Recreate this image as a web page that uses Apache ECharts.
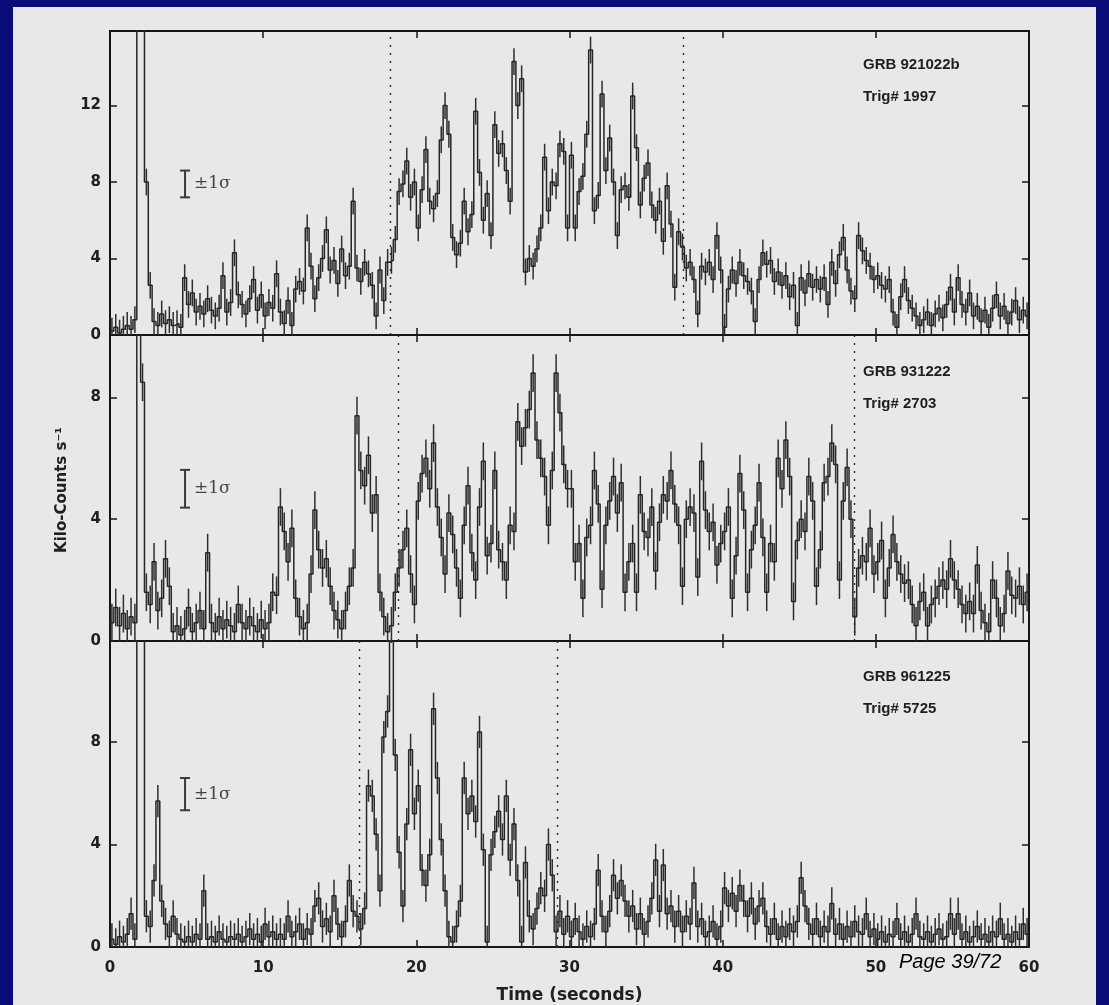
<!DOCTYPE html>
<html>
<head>
<meta charset="utf-8">
<script src="https://cdn.jsdelivr.net/npm/echarts@6/dist/echarts.min.js"></script>
<style>
  html, body { margin: 0; padding: 0; width: 1109px; height: 1005px; overflow: hidden; background: #0c0c78; }
  #page { position: absolute; left: 13px; top: 7px; width: 1083px; height: 998px; background: #e8e8e8; }
  #chart { position: absolute; left: 0; top: 0; width: 1109px; height: 1005px; }
</style>
</head>
<body>
<div id="page"></div>
<div id="chart"></div>
<script>
// BATSE light curves of three long bursts, 0.25 s bins, kilo-counts per second.
const BIN_WIDTH = 0.25;
const T_MAX = 60;
const X_TICK_STEP = 10;
const Y_TICK_STEP = 4;

const burstNames = ['GRB 921022b', 'GRB 931222', 'GRB 961225'];
const triggerLabels = ['Trig# 1997', 'Trig# 2703', 'Trig# 5725'];

// one row per second (four bins each)
const counts921022b = [
  0.2,0.4,0.1,0.3,  0.5,0.3,0.8,30,   30,8.0,2.6,0.7,   0.5,1.1,0.6,0.8,
  0.5,0.6,0.4,3.0,  1.6,2.2,1.2,1.5,  1.1,1.9,1.3,1.0,  1.4,3.1,1.2,1.7,
  4.3,2.1,1.6,1.1,  1.9,2.9,1.3,2.1,  1.0,1.7,1.4,3.2,  1.2,0.6,1.8,0.5,
  2.4,2.8,2.3,5.6,  3.6,1.9,3.0,4.0,  5.5,3.4,3.9,2.7,  4.5,3.1,3.6,7.0,
  3.5,2.8,3.8,3.2,  2.6,1.0,3.4,1.8,  3.8,3.9,5.0,7.5,  7.9,9.1,7.2,8.0,
  5.6,7.6,9.7,7.0,  6.6,7.4,10.2,12.0, 10.5,5.1,4.2,4.8, 7.0,5.4,6.3,11.7,
  8.5,6.0,7.4,5.2,  11.0,9.5,10.0,8.6, 7.0,14.3,12.0,13.4, 3.3,4.0,3.6,4.5,
  5.6,9.3,6.5,8.0,  7.8,10.0,9.6,5.6, 9.4,5.6,7.5,8.3,  10.5,14.9,6.5,7.3,
  12.6,8.6,10.3,8.0, 5.2,7.6,7.8,7.2, 12.5,9.8,6.8,8.2, 9.0,6.8,6.0,7.0,
  4.9,7.8,5.8,2.5,  5.4,4.6,3.5,3.8,  2.9,1.1,3.6,3.3,  3.8,2.9,5.2,3.4,
  0.4,2.4,3.4,2.7,  3.8,3.1,2.8,2.3,  0.7,2.9,4.3,3.7,  3.9,2.8,3.3,2.6,
  3.1,2.0,2.6,0.5,  3.0,2.2,3.2,2.5,  2.9,2.4,3.0,1.6,  3.8,2.7,4.2,5.1,
  3.4,2.3,1.9,5.2,  4.4,3.9,3.6,2.9,  3.1,2.6,2.4,2.9,  1.2,0.4,2.0,2.9,
  1.8,1.4,1.0,0.5,  0.8,1.2,0.5,1.1,  1.4,0.9,1.6,2.5,  1.2,3.0,1.6,1.2,
  2.2,1.0,1.5,0.7,  1.3,0.4,1.4,2.1,  1.0,1.5,0.6,1.2,  1.8,0.8,1.3,1.0
];

const counts931222 = [
  0.6,1.1,0.5,0.9,  0.4,0.8,0.6,25,   8.5,1.6,1.2,2.6,  1.0,1.4,2.7,1.8,
  0.3,0.5,0.2,0.4,  1.1,0.3,0.6,1.0,  0.4,2.9,0.6,0.3,  0.8,0.4,0.7,0.5,
  0.3,1.2,0.6,0.4,  0.8,0.5,0.3,0.7,  0.4,0.6,1.6,1.5,  4.4,3.6,2.6,3.7,
  1.4,0.8,0.4,0.6,  2.2,4.3,3.0,2.4,  2.7,1.8,1.0,0.7,  0.4,1.0,1.8,2.4,
  7.4,5.6,5.1,6.1,  4.2,4.8,1.6,0.8,  0.3,0.5,1.6,2.4,  3.0,3.7,2.2,1.2,
  4.6,5.5,6.0,5.0,  6.5,4.4,3.4,2.2,  4.2,3.5,2.4,1.4,  3.8,5.1,2.9,2.0,
  4.4,5.9,2.8,3.2,  5.6,3.0,2.6,2.0,  3.8,3.6,7.2,6.4,  7.0,7.6,8.8,6.6,
  6.0,5.4,3.8,5.6,  8.8,7.5,5.8,5.0,  5.0,2.6,3.2,1.4,  3.4,3.8,5.6,4.5,
  1.7,3.8,4.6,5.4,  4.2,5.2,1.6,2.6,  3.2,1.6,4.8,3.6,  3.4,4.4,2.3,3.9,
  4.8,4.6,5.6,4.5,  3.8,1.8,4.0,4.4,  4.2,2.1,5.9,4.3,  3.6,3.9,2.5,3.2,
  3.6,4.4,1.4,2.8,  5.5,4.3,1.6,3.0,  3.8,5.2,3.4,1.6,  3.2,2.6,6.0,5.0,
  6.6,5.4,1.3,3.3,  4.0,3.6,5.4,4.6,  1.8,3.0,5.2,5.4,  6.5,5.8,2.0,4.6,
  5.7,4.0,0.8,2.4,  2.8,2.6,3.7,2.2,  2.6,3.3,1.4,2.4,  3.5,2.6,2.2,1.9,
  2.0,1.2,0.5,1.3,  1.6,0.5,1.2,1.4,  1.8,2.0,1.7,2.7,  2.0,1.7,1.2,0.9,
  1.3,0.9,2.5,1.0,  0.6,0.3,2.0,1.4,  0.5,0.9,2.3,1.5,  1.4,1.8,1.2,1.6
];

const counts961225 = [
  0.3,0.1,0.4,0.2,  0.5,1.3,0.3,22,   18,1.2,0.8,2.6,   5.7,1.8,0.9,0.4,
  1.2,0.5,0.3,0.2,  0.4,0.2,0.5,0.3,  2.2,0.3,0.4,0.2,  0.6,0.3,0.2,0.4,
  0.3,0.5,0.2,0.4,  0.7,0.3,0.5,0.2,  0.9,0.4,0.6,0.3,  0.5,0.3,1.2,0.4,
  0.6,0.9,0.3,0.7,  0.5,1.6,1.9,0.8,  1.1,0.6,2.0,0.9,  0.4,1.0,2.6,1.4,
  1.2,0.7,1.5,6.3,  5.9,4.4,2.2,8.2,  9.2,12.5,7.5,3.7, 1.6,4.8,7.7,5.2,
  6.3,3.0,2.4,3.6,  9.3,6.6,4.2,2.2,  0.4,0.2,0.8,1.8,  6.6,5.2,5.9,4.9,
  8.4,3.8,0.2,3.6,  4.5,5.3,4.2,5.9,  3.4,4.8,2.6,0.2,  3.3,1.2,0.7,1.5,
  2.3,2.0,4.0,2.8,  0.6,1.4,0.5,1.2,  0.4,1.1,0.6,0.3,  0.8,0.4,0.9,3.0,
  1.2,0.6,1.4,2.8,  1.9,2.6,1.8,1.2,  1.6,0.7,1.3,0.5,  1.0,1.9,3.4,1.4,
  3.2,1.3,1.6,0.8,  1.4,0.6,1.2,0.9,  2.5,0.8,1.1,0.4,  0.6,1.0,0.3,0.8,
  2.3,1.6,2.1,1.4,  2.4,1.8,1.2,1.9,  0.9,1.6,1.9,0.8,  0.5,1.1,0.3,0.8,
  0.4,0.9,0.6,1.0,  2.7,1.6,0.9,0.5,  1.1,0.4,0.8,0.6,  1.7,0.5,0.9,0.3,
  0.8,0.4,1.0,0.6,  0.5,1.3,0.4,0.7,  0.3,0.6,0.2,0.5,  0.4,1.1,0.3,0.6,
  0.2,0.5,1.3,0.4,  0.3,0.6,0.2,0.5,  0.7,0.3,0.4,1.3,  0.5,1.3,0.3,0.6,
  0.2,0.4,0.8,0.3,  0.5,0.2,0.6,0.4,  1.1,0.3,0.5,0.2,  0.6,0.3,0.9,0.5
];

const panelCounts = [counts921022b, counts931222, counts961225];
// dotted lines bracketing the main emission (seconds)
const intervalMarks = [[18.3, 37.4], [18.8, 48.6], [16.3, 29.2]];
// typical one-sigma error per bin (kilo-counts/s)
const sigmaLevels = [0.7, 0.62, 0.63];
// where the "±1σ" key sits in each panel: [seconds, kilo-counts/s]
const sigmaKeyPos = [[4.9, 7.9], [4.9, 5.0], [4.9, 5.97]];
const yMax = [15.9, 10.05, 11.95];

// page layout
const GRID_LEFT = 110, GRID_RIGHT = 80;
const gridTops = [31, 335, 641];
const gridHeights = [304, 306, 306];
const INK = '#161616';
const TICK_FONT = 'DejaVu Sans';

function histogramPoints(counts) {
  const pts = counts.map((v, i) => [i * BIN_WIDTH, v]);
  pts.push([counts.length * BIN_WIDTH, counts[counts.length - 1]]);
  return pts;
}
function binCentres(counts) {
  return counts.map((v, i) => [(i + 0.5) * BIN_WIDTH, v]);
}

const grids = [], xAxes = [], yAxes = [], series = [];

panelCounts.forEach((counts, k) => {
  grids.push({ left: GRID_LEFT, right: GRID_RIGHT, top: gridTops[k], height: gridHeights[k], containLabel: false });

  const xBase = {
    type: 'value', gridIndex: k, min: 0, max: T_MAX, interval: X_TICK_STEP,
    axisLine: { show: true, onZero: false, lineStyle: { color: INK, width: 2 } },
    axisTick: { show: true, inside: true, length: 7, lineStyle: { color: INK, width: 1.5 } },
    splitLine: { show: false }
  };
  const isBottom = k === panelCounts.length - 1;
  xAxes.push(Object.assign({}, xBase, {
    position: 'bottom',
    axisLabel: {
      show: isBottom, margin: 14, color: '#202020',
      fontFamily: TICK_FONT, fontWeight: 'bold', fontSize: 15
    },
    name: isBottom ? 'Time (seconds)' : '',
    nameLocation: 'middle', nameGap: 40,
    nameTextStyle: { color: '#202020', fontFamily: TICK_FONT, fontWeight: 'bold', fontSize: 17 }
  }));
  xAxes.push(Object.assign({}, xBase, { position: 'top', axisLabel: { show: false } }));

  const yBase = {
    type: 'value', gridIndex: k, min: 0, max: yMax[k], interval: Y_TICK_STEP,
    axisLine: { show: true, onZero: false, lineStyle: { color: INK, width: 2 } },
    axisTick: { show: true, inside: true, length: 7, lineStyle: { color: INK, width: 1.5 } },
    splitLine: { show: false }
  };
  yAxes.push(Object.assign({}, yBase, {
    position: 'left',
    axisLabel: {
      show: true, showMaxLabel: false, margin: 9, color: '#202020',
      fontFamily: TICK_FONT, fontWeight: 'bold', fontSize: 15
    }
  }));
  yAxes.push(Object.assign({}, yBase, { position: 'right', axisLabel: { show: false } }));

  // stepped light curve
  series.push({
    type: 'line', xAxisIndex: 2 * k, yAxisIndex: 2 * k,
    data: histogramPoints(counts), step: 'end',
    showSymbol: false, symbol: 'none', clip: true, animation: false,
    lineStyle: { color: '#262626', width: 1.5 },
    markLine: {
      silent: true, symbol: ['none', 'none'], animation: false,
      label: { show: false },
      lineStyle: { color: '#2a2a2a', width: 1.4, type: [2, 6] },
      data: intervalMarks[k].map(t => ({ xAxis: t }))
    },
    z: 3
  });

  // per-bin error bars
  const sigma = sigmaLevels[k];
  series.push({
    type: 'custom', xAxisIndex: 2 * k, yAxisIndex: 2 * k,
    data: binCentres(counts), clip: true, animation: false, silent: true,
    renderItem: (params, api) => {
      const t = api.value(0), v = api.value(1);
      const lo = api.coord([t, v - sigma]);
      const hi = api.coord([t, v + sigma]);
      return {
        type: 'line',
        shape: { x1: lo[0], y1: lo[1], x2: hi[0], y2: hi[1] },
        style: { stroke: '#2e2e2e', lineWidth: 1.5 }
      };
    },
    z: 3
  });

  // "±1σ" key
  series.push({
    type: 'custom', xAxisIndex: 2 * k, yAxisIndex: 2 * k,
    data: [sigmaKeyPos[k]], animation: false, silent: true,
    renderItem: (params, api) => {
      const t = api.value(0), v = api.value(1);
      const lo = api.coord([t, v - sigma]);
      const hi = api.coord([t, v + sigma]);
      const mid = api.coord([t, v]);
      const cap = 5;
      const stroke = { stroke: '#3a3a3a', lineWidth: 2 };
      return {
        type: 'group',
        children: [
          { type: 'line', shape: { x1: lo[0], y1: lo[1], x2: hi[0], y2: hi[1] }, style: stroke },
          { type: 'line', shape: { x1: lo[0] - cap, y1: lo[1], x2: lo[0] + cap, y2: lo[1] }, style: stroke },
          { type: 'line', shape: { x1: hi[0] - cap, y1: hi[1], x2: hi[0] + cap, y2: hi[1] }, style: stroke },
          {
            type: 'text', x: mid[0] + 9, y: mid[1],
            style: { text: '±1σ', font: '17px "DejaVu Serif"', fill: '#444444', align: 'left', verticalAlign: 'middle' }
          }
        ]
      };
    },
    z: 4
  });
});

// burst names, trigger numbers, shared y title, page number
const labelCentres = [[64.5, 97], [371.5, 403.5], [676.5, 709]];
const graphics = [];
burstNames.forEach((name, k) => {
  graphics.push({
    type: 'text', x: 863, y: labelCentres[k][0], silent: true,
    style: { text: name, font: 'bold 15px "Liberation Sans"', fill: '#1e1e1e', align: 'left', verticalAlign: 'middle' }
  });
  graphics.push({
    type: 'text', x: 863, y: labelCentres[k][1], silent: true,
    style: { text: triggerLabels[k], font: 'bold 15px "Liberation Sans"', fill: '#1e1e1e', align: 'left', verticalAlign: 'middle' }
  });
});
graphics.push({
  type: 'text', x: 62, y: 490, rotation: Math.PI / 2, silent: true,
  style: { text: 'Kilo-Counts s⁻¹', font: 'bold 15px "DejaVu Sans"', fill: '#202020', align: 'center', verticalAlign: 'middle' }
});
graphics.push({
  type: 'text', x: 899, y: 962, silent: true,
  style: { text: 'Page 39/72', font: 'italic 20px "Liberation Sans"', fill: '#000000', align: 'left', verticalAlign: 'middle' }
});

const chart = echarts.init(document.getElementById('chart'), null, { renderer: 'canvas' });
chart.setOption({
  backgroundColor: 'transparent',
  animation: false,
  grid: grids,
  xAxis: xAxes,
  yAxis: yAxes,
  series: series,
  graphic: graphics
});
</script>
</body>
</html>
